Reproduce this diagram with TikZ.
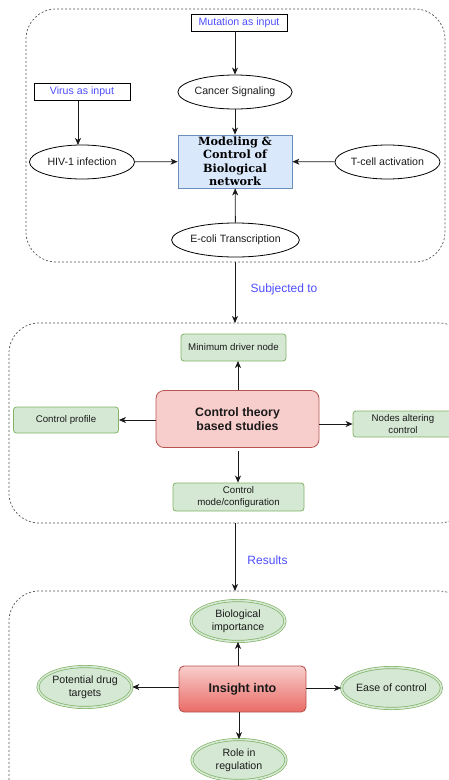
\documentclass[tikz,border=0pt]{standalone}
\usepackage{fontspec}
\setmainfont{Liberation Sans}
\newfontfamily\headserif{DejaVu Serif}
\usetikzlibrary{shapes.geometric,arrows.meta}
\definecolor{inputblue}{HTML}{4D4DFF}
\definecolor{netfill}{HTML}{DAE8FC}
\definecolor{netdraw}{HTML}{6C8EBF}
\definecolor{redfill}{HTML}{F8CECC}
\definecolor{reddraw}{HTML}{B85450}
\definecolor{reddeep}{HTML}{EA6B66}
\definecolor{greenfill}{HTML}{D5E8D4}
\definecolor{greendraw}{HTML}{82B366}
\definecolor{inkgray}{HTML}{1A1A1A}
\definecolor{framegray}{HTML}{555555}
\tikzset{
  container/.style={draw=framegray, line width=0.7pt, dash pattern=on 2pt off 2pt, rounded corners=30pt, inner sep=0pt},
  inputbox/.style={draw, line width=0.8pt, minimum width=96pt, minimum height=17pt, inner sep=0pt, text=inputblue, font=\fontsize{10.6}{12}\selectfont},
  netoval/.style={ellipse, draw, line width=0.8pt, minimum width=105pt, minimum height=34pt, inner sep=0pt, text=inkgray, font=\fontsize{10.6}{12}\selectfont},
  greenbox/.style={draw=greendraw, fill=greenfill, line width=0.8pt, rounded corners=3pt, inner sep=0pt, text=inkgray, align=center, font=\fontsize{9.7}{12.5}\selectfont},
  greenoval/.style={ellipse, draw=greendraw, double=greenfill, double distance=1.6pt, fill=greenfill, line width=0.7pt, minimum width=94pt, minimum height=41pt, inner sep=0pt, text=inkgray, align=center, font=\fontsize{10.6}{13}\selectfont},
  arr/.style={-{Stealth[length=7pt,width=6pt,inset=2pt]}, line width=0.8pt, draw=inkgray},
  flowlabel/.style={text=inputblue, font=\fontsize{12}{14}\selectfont}
}
\begin{document}
\begin{tikzpicture}[x=1pt,y=-1pt]
\useasboundingbox (0,0) rectangle (449,780);

% ---- stage 1: biological networks ----
\node[container, minimum width=419pt, minimum height=253pt] (stageA) at (235.5,135.5) {};
\node[inputbox] (mut) at (239,22.5) {Mutation as input};
\node[netoval] (cancer) at (235,92) {Cancer Signaling};
\node[inputbox] (virus) at (82,92) {Virus as input};
\node[netoval] (hiv) at (82,162) {HIV-1 infection};
\node[draw=netdraw, fill=netfill, line width=0.8pt, minimum width=114pt, minimum height=53pt, inner sep=0pt,
      text width=112pt, align=center, font=\headserif\bfseries\fontsize{11.3}{13.5}\selectfont] (model) at (235,161.5)
      {Modeling \&\\Control of\\Biological\\network};
\node[netoval] (tcell) at (387.5,162) {T-cell activation};
\node[netoval] (ecoli) at (235.5,240) {E-coli Transcription};

\draw[arr] (mut.south -| cancer) -- (cancer.north);
\draw[arr] (cancer) -- (model);
\draw[arr] (virus.south -| 78,0) -- (78,145);
\draw[arr] (hiv) -- (model);
\draw[arr] (tcell) -- (model);
\draw[arr] (ecoli) -- (model);

% ---- stage 2: control theory ----
\node[container, minimum width=460pt, minimum height=200pt] (stageB) at (239,423) {};
\node[draw=reddraw, fill=redfill, line width=0.8pt, rounded corners=8pt, minimum width=163pt, minimum height=57pt,
      inner sep=0pt, align=center, text=inkgray, font=\bfseries\fontsize{12.3}{14.5}\selectfont] (ctl) at (237.5,419)
      {Control theory\\based studies};
\node[greenbox, minimum width=105pt, minimum height=27pt] (mdn) at (233.5,347.5) {Minimum driver node};
\node[greenbox, minimum width=105pt, minimum height=26pt] (prof) at (66,420) {Control profile};
\node[greenbox, minimum width=100pt, minimum height=26pt] (alt) at (403,424) {Nodes altering\\control};
\node[greenbox, minimum width=131pt, minimum height=28pt] (mode) at (238.5,497) {Control\\mode/configuration};

\draw[arr] (ctl.north -| 238,0) -- (238,361);
\draw[arr] (ctl.west |- prof) -- (prof.east);
\draw[arr] (ctl.east |- alt) -- (alt.west);
\draw[arr] (238,451) -- (mode.north -| 238,0);

% ---- stage 3: insights ----
\node[container, minimum width=460pt, minimum height=220pt] (stageC) at (239,701) {};
\node[draw=reddraw, top color=redfill, bottom color=reddeep, line width=0.9pt, rounded corners=5pt,
      minimum width=127pt, minimum height=46pt, inner sep=0pt, text=inkgray,
      font=\bfseries\fontsize{12.6}{14.5}\selectfont] (ins) at (242.5,689) {Insight into};
\node[greenoval] (bio) at (238,621) {Biological\\importance};
\node[greenoval] (drug) at (85,687) {Potential drug\\targets};
\node[greenoval] (ease) at (391.5,688) {Ease of control};
\node[greenoval] (role) at (239,760) {Role in\\regulation};

\draw[arr] (ins.north -| bio) -- (bio.south);
\draw[arr] (ins.west |- drug) -- (drug.east);
\draw[arr] (ins.east |- ease) -- (ease.west);
\draw[arr] (ins.south -| role) -- (role.north);

% ---- flow between stages ----
\coordinate (aOut) at (235,262);
\coordinate (bIn) at (235,323);
\coordinate (bOut) at (235,523);
\coordinate (cIn) at (235,591);
\draw[arr] (aOut) -- (bIn);
\draw[arr] (bOut) -- (cIn);
\node[flowlabel] (subj) at (284,289) {Subjected to};
\node[flowlabel] (res) at (267.5,560) {Results};
\end{tikzpicture}
\end{document}
